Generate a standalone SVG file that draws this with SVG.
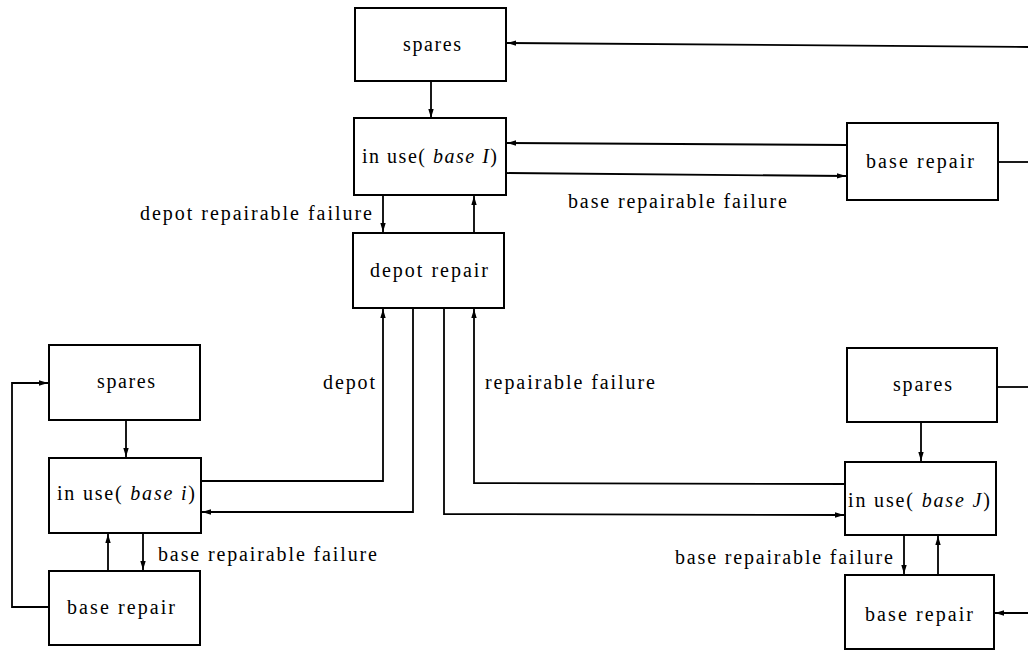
<svg xmlns="http://www.w3.org/2000/svg" width="1028" height="653" viewBox="0 0 1028 653">
<defs>
<marker id="ah" markerUnits="userSpaceOnUse" markerWidth="10" markerHeight="7" refX="9" refY="3.5" orient="auto">
<path d="M0,0.8 L9,3.5 L0,6.2 z" fill="#000"/>
</marker>
<style>
.box{fill:#fff;stroke:#000;stroke-width:2}
.ln{fill:none;stroke:#000;stroke-width:1.8}
.ar{marker-end:url(#ah)}
text{font-family:"Liberation Serif","Times New Roman",serif;font-size:20px;fill:#000}
.it{font-style:italic}
</style>
</defs>
<rect width="1028" height="653" fill="#fff"/>
<g id="connectors">
<path class="ln ar" d="M1028,47 L507,43"/>
<path class="ln ar" d="M431,81 L431,118"/>
<path class="ln ar" d="M847,145 L507,143"/>
<path class="ln ar" d="M506,173 L846,176"/>
<path class="ln" d="M998,162 L1028,162"/>
<path class="ln ar" d="M383,195 L383,232"/>
<path class="ln ar" d="M474,233 L474,196"/>
<path class="ln ar" d="M201,481 L383,481 L383,309"/>
<path class="ln ar" d="M413,308 L413,512 L202,512"/>
<path class="ln ar" d="M444,308 L444,514 L844,515"/>
<path class="ln ar" d="M845,484 L474,483 L474,309"/>
<path class="ln ar" d="M126,420 L126,457"/>
<path class="ln ar" d="M108,571 L108,534"/>
<path class="ln ar" d="M143,533 L143,570"/>
<path class="ln ar" d="M49,607 L12,607 L12,383 L48,383"/>
<path class="ln" d="M997,387 L1028,387"/>
<path class="ln ar" d="M921,422 L921,461"/>
<path class="ln ar" d="M904,535 L904,574"/>
<path class="ln ar" d="M938,575 L938,536"/>
<path class="ln ar" d="M1028,613 L995,613"/>
</g>
<g id="spares-I">
<rect class="box" x="355" y="8" width="151" height="73"/>
<text x="403" y="51" textLength="58" lengthAdjust="spacing">spares</text>
</g>
<g id="inuse-I">
<rect class="box" x="354" y="118" width="152" height="77"/>
<text x="362" y="163" textLength="135" lengthAdjust="spacing">in use( <tspan class="it">base I</tspan>)</text>
</g>
<g id="baserepair-I">
<rect class="box" x="847" y="123" width="151" height="77"/>
<text x="866" y="168" textLength="108" lengthAdjust="spacing">base repair</text>
</g>
<g id="depot">
<rect class="box" x="353" y="233" width="151" height="75"/>
<text x="370" y="277" textLength="118" lengthAdjust="spacing">depot repair</text>
</g>
<g id="spares-i">
<rect class="box" x="49" y="345" width="151" height="75"/>
<text x="97" y="388" textLength="58" lengthAdjust="spacing">spares</text>
</g>
<g id="inuse-i">
<rect class="box" x="49" y="458" width="152" height="75"/>
<text x="57" y="500" textLength="138" lengthAdjust="spacing">in use( <tspan class="it">base i</tspan>)</text>
</g>
<g id="baserepair-i">
<rect class="box" x="49" y="571" width="151" height="74"/>
<text x="67" y="614" textLength="108" lengthAdjust="spacing">base repair</text>
</g>
<g id="spares-J">
<rect class="box" x="847" y="348" width="150" height="74"/>
<text x="893" y="391" textLength="59" lengthAdjust="spacing">spares</text>
</g>
<g id="inuse-J">
<rect class="box" x="845" y="462" width="151" height="73"/>
<text x="848" y="507" textLength="142" lengthAdjust="spacing">in use( <tspan class="it">base J</tspan>)</text>
</g>
<g id="baserepair-J">
<rect class="box" x="845" y="575" width="149" height="74"/>
<text x="865" y="621" textLength="108" lengthAdjust="spacing">base repair</text>
</g>
<g id="labels">
<text x="568" y="208" textLength="219" lengthAdjust="spacing">base repairable failure</text>
<text x="140" y="220" textLength="232" lengthAdjust="spacing">depot repairable failure</text>
<text x="323" y="389" textLength="52" lengthAdjust="spacing">depot</text>
<text x="485" y="389" textLength="170" lengthAdjust="spacing">repairable failure</text>
<text x="158" y="561" textLength="219" lengthAdjust="spacing">base repairable failure</text>
<text x="675" y="564" textLength="218" lengthAdjust="spacing">base repairable failure</text>
</g>
</svg>
